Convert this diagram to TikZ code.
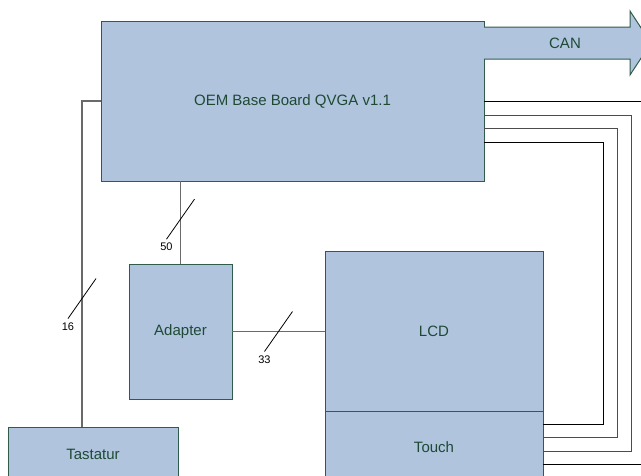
\documentclass[tikz,border=0pt]{standalone}
\usepackage{fontspec}
\setmainfont{Liberation Sans}
\usetikzlibrary{positioning,calc}
\definecolor{cFill}{HTML}{B0C4DE}
\definecolor{cEdge}{HTML}{2F5C4B}
\definecolor{cText}{HTML}{1E4A35}
\definecolor{cWire}{HTML}{6A6A6A}
\tikzset{
  blk/.style   ={draw=cEdge,fill=cFill,text=cText,line width=1pt,
                 inner sep=0pt,outer sep=0pt,font=\fontsize{15}{18}\selectfont},
  wire/.style  ={line width=1.1pt,cWire},
  bond/.style  ={line width=1pt,black},
  bondg/.style ={line width=1pt,black!70},
  slash/.style ={line width=.8pt,black},
  buslbl/.style={font=\fontsize{11}{13}\selectfont,inner sep=0pt},
  pics/bus/.style={code={\draw[slash] (-14,20) -- (14,-20);
                         \node[buslbl] at (-14,28) {#1};}},
}
\begin{document}
\begin{tikzpicture}[x=1pt,y=-1pt]
\clip (0,0) rectangle (641,475);
% blocks
\node[blk,minimum width=383pt,minimum height=160pt] (OEM) at (292.5,101) {OEM Base Board QVGA v1.1};
\node[blk,minimum width=103pt,minimum height=135pt] (Adapter) at (180.5,331.5) {Adapter};
\node[blk,minimum width=218pt,minimum height=160pt] (LCD) at (434,331) {LCD};
\node[blk,minimum width=218pt,minimum height=72pt,below=0pt of LCD] (Touch) {Touch};
\node[blk,minimum width=170pt,minimum height=54pt] (Tastatur) at (93,454) {Tastatur};
% CAN bus
\fill[cFill] (482,27) -- (630,27) -- (630,11) -- (651,43) -- (630,75) -- (630,59) -- (482,59) -- cycle;
\draw[cEdge,line width=1pt] (484,27) -- (630,27) -- (630,11) -- (651,43) -- (630,75) -- (630,59) -- (484,59);
\node[text=cText,font=\fontsize{15}{18}\selectfont] (can) at (565,43) {CAN};
% wires with bus widths
\draw[wire] (Adapter.north |- OEM.south) -- coordinate[pos=.46] (m50) (Adapter.north);
\pic at (m50) {bus=50};
\draw[wire] (OEM.west) -- ++(-19,0) coordinate (kc) -- coordinate[pos=.606] (m16) (kc |- Tastatur.north);
\pic at (m16) {bus=16};
\draw[wire] (Adapter.east) -- coordinate[pos=.5] (m33) (Adapter.east -| LCD.west);
\pic at (m33) {bus=33};
% lines from board to touch
\draw[bond]  (OEM.east) -- ++(164,0) |- ([yshift=-17pt]Touch.east);
\draw[bondg] ([yshift=-14pt]OEM.east) -- ++(147,0) |- ([yshift=-4pt]Touch.east);
\draw[bondg] ([yshift=-27pt]OEM.east) -- ++(133,0) |- ([yshift=10pt]Touch.east);
\draw[bond]  ([yshift=-41pt]OEM.east) -- ++(119,0) |- ([yshift=23pt]Touch.east);
\end{tikzpicture}
\end{document}
